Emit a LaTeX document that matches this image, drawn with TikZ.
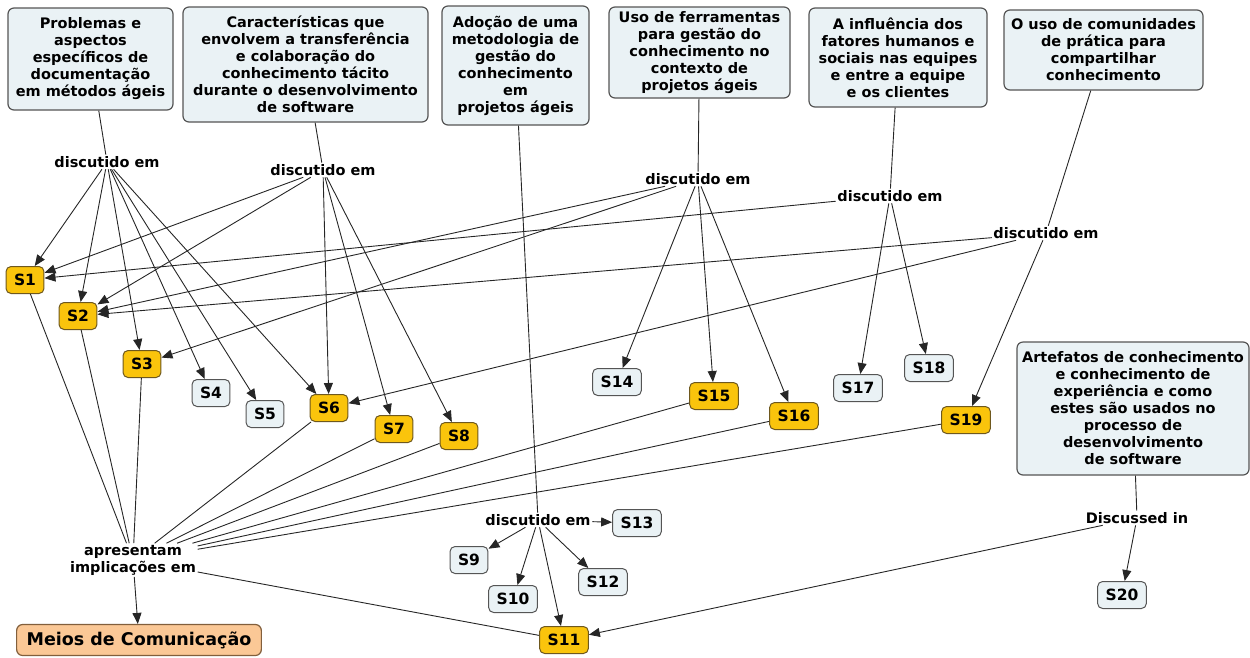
\documentclass[tikz,border=0pt]{standalone}
\usepackage{fontspec}
\setmainfont{DejaVu Sans}
\usetikzlibrary{arrows.meta}

\definecolor{topicfill}{RGB}{234,242,245}
\definecolor{topicdraw}{RGB}{85,85,85}
\definecolor{studyfill}{RGB}{250,196,12}
\definecolor{studydraw}{RGB}{110,88,30}
\definecolor{mediafill}{RGB}{251,200,150}
\definecolor{mediadraw}{RGB}{130,95,60}

\begin{document}
\begin{tikzpicture}[x=1pt,y=-1pt,
  every node/.style={font=\fontsize{14.5}{17}\selectfont\bfseries, text=black},
  topic/.style={draw=topicdraw, fill=topicfill, line width=1.2pt,
    rounded corners=6pt, align=center, inner sep=0pt},
  study/.style={draw=studydraw, fill=studyfill, line width=1pt,
    rounded corners=5pt, minimum height=27pt, inner xsep=8pt, inner ysep=0pt,
    font=\fontsize{15.5}{17}\selectfont\bfseries},
  seen/.style={study, draw=topicdraw, fill=topicfill},
  media/.style={draw=mediadraw, fill=mediafill, line width=1.2pt,
    rounded corners=6pt, minimum height=31pt, inner xsep=10pt,
    font=\fontsize{17.5}{20}\selectfont\bfseries},
  link/.style={inner sep=1.5pt, align=center},
  con/.style={line width=0.9pt, draw=black!85},
  arr/.style={con, -{Triangle[length=11pt,width=9pt]}},
]
\useasboundingbox (0,0) rectangle (1250,657);

% topic boxes
\node[topic, minimum width=165pt, minimum height=102pt] (t1) at (90.5,59)
  {Problemas e\\aspectos\\específicos de\\documentação\\em métodos ágeis};
\node[topic, minimum width=245pt, minimum height=115pt] (t2) at (305.5,64.5)
  {Características que\\envolvem a transferência\\e colaboração do\\conhecimento tácito\\durante o desenvolvimento\\de software};
\node[topic, minimum width=147pt, minimum height=119pt] (t3) at (515.5,65.5)
  {Adoção de uma\\metodologia de\\gestão do\\conhecimento\\em\\projetos ágeis};
\node[topic, minimum width=181pt, minimum height=91pt] (t4) at (699.5,52.5)
  {Uso de ferramentas\\para gestão do\\conhecimento no\\contexto de\\projetos ágeis};
\node[topic, minimum width=178pt, minimum height=99pt] (t5) at (898,57.5)
  {A influência dos\\fatores humanos e\\sociais nas equipes\\e entre a equipe\\e os clientes};
\node[topic, minimum width=199pt, minimum height=80pt] (t6) at (1103.5,50)
  {O uso de comunidades\\de prática para\\compartilhar\\conhecimento};
\node[topic, minimum width=232pt, minimum height=133pt] (t7) at (1133,408.5)
  {Artefatos de conhecimento\\e conhecimento de\\experiência e como\\estes são usados no\\processo de\\desenvolvimento\\de software};

% linking phrases
\node[link] (l1) at (107,162) {discutido em};
\node[link] (l2) at (323,170) {discutido em};
\node[link] (l3) at (538,520) {discutido em};
\node[link] (l4) at (698,179) {discutido em};
\node[link] (l5) at (890,196) {discutido em};
\node[link] (l6) at (1046,233) {discutido em};
\node[link] (l7) at (1137,518) {Discussed in};
\node[link] (imp) at (133,560) {apresentam\\implicações em};

% studies
\node[study] (s1) at (25,280) {S1};
\node[study] (s2) at (78,316) {S2};
\node[study] (s3) at (142,364) {S3};
\node[seen]  (s4) at (211,393) {S4};
\node[seen]  (s5) at (265,414) {S5};
\node[study] (s6) at (329,408) {S6};
\node[study] (s7) at (394,429) {S7};
\node[study] (s8) at (459,436) {S8};
\node[seen]  (s9) at (469,560) {S9};
\node[seen]  (s10) at (513,599) {S10};
\node[study] (s11) at (564,640) {S11};
\node[seen]  (s12) at (603,582) {S12};
\node[seen]  (s13) at (637,523) {S13};
\node[seen]  (s14) at (617,382) {S14};
\node[study] (s15) at (714,396) {S15};
\node[study] (s16) at (794,416) {S16};
\node[seen]  (s17) at (858,388) {S17};
\node[seen]  (s18) at (929,368) {S18};
\node[study] (s19) at (966,420) {S19};
\node[seen]  (s20) at (1122,595) {S20};

\node[media] (meios) at (139,640) {Meios de Comunicação};

% topic to linking phrase
\draw[con] (t1) -- (l1);
\draw[con] (t2) -- (l2);
\draw[con] (t3) -- (l3);
\draw[con] (t4) -- (l4);
\draw[con] (t5) -- (l5);
\draw[con] (t6) -- (l6);
\draw[con] (t7) -- (l7);

% linking phrase to studies
\foreach \s in {s1,s2,s3,s4,s5,s6} \draw[arr] (l1) -- (\s);
\foreach \s in {s1,s2,s6,s7,s8} \draw[arr] (l2) -- (\s);
\foreach \s in {s9,s10,s11,s12,s13} \draw[arr] (l3) -- (\s);
\foreach \s in {s2,s3,s14,s15,s16} \draw[arr] (l4) -- (\s);
\foreach \s in {s1,s17,s18} \draw[arr] (l5) -- (\s);
\foreach \s in {s2,s6,s19} \draw[arr] (l6) -- (\s);
\foreach \s in {s20,s11} \draw[arr] (l7) -- (\s);

% studies with implications
\foreach \s in {s1,s2,s3,s6,s7,s8,s15,s16,s19} \draw[con] (\s) -- (imp);
\draw[con] (imp) -- (s11);
\draw[arr] (imp) -- (meios);

\end{tikzpicture}
\end{document}
